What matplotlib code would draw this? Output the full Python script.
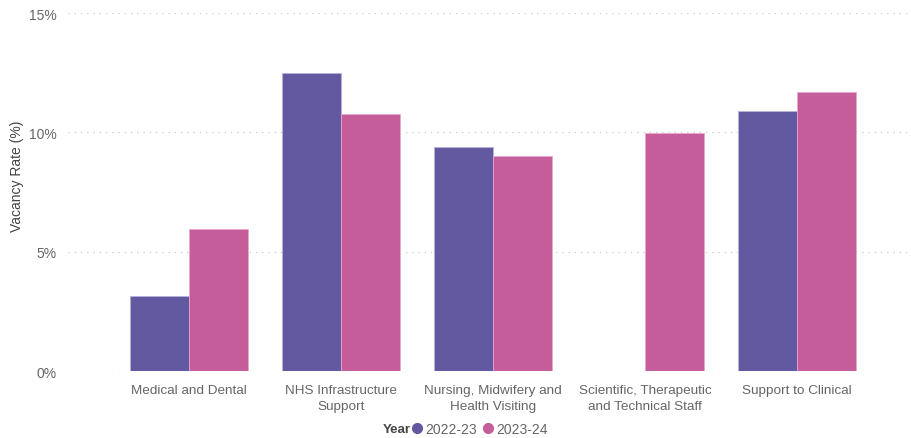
import numpy as np
import matplotlib
matplotlib.use("Agg")
import matplotlib.pyplot as plt
from matplotlib.lines import Line2D
from matplotlib.ticker import FuncFormatter

plt.rcParams['font.family'] = ['Liberation Sans', 'DejaVu Sans']

# data
categories = ["Medical and Dental", "NHS Infrastructure\nSupport",
              "Nursing, Midwifery and\nHealth Visiting",
              "Scientific, Therapeutic\nand Technical Staff", "Support to Clinical"]
years = ["2022-23", "2023-24"]
rate_2022 = [3.15, 12.48, 9.38, np.nan, 10.89]
rate_2023 = [5.95, 10.77, 9.02, 9.97, 11.69]

purple = "#6359A1"
pink = "#C45D99"
grey = "#666666"

fig = plt.figure(figsize=(9.12, 4.39), dpi=100)
ax = fig.add_axes([0.0746, 0.1526, 0.9254, 0.8155])

x = np.arange(len(categories))
w = 0.388
ax.bar(x - w / 2, rate_2022, width=w, color=purple, edgecolor="#b9b3dc", linewidth=0.6, zorder=3)
ax.bar(x + w / 2, rate_2023, width=w, color=pink, edgecolor="#e8a9cf", linewidth=0.6, zorder=3)

ax.set_xlim(-0.796, len(categories) - 1 + 0.756)
ax.set_ylim(0, 15)
ax.set_yticks([0, 5, 10, 15])
ax.yaxis.set_major_formatter(FuncFormatter(lambda v, p: f"{v:.0f}%"))
ax.set_xticks(x)
ax.set_xticklabels(categories, fontsize=9.7, color=grey, linespacing=1.45)
ax.tick_params(axis='x', length=0, pad=9)
ax.tick_params(axis='y', length=0, pad=8, labelsize=10, labelcolor=grey)
ax.grid(axis='y', linestyle=(0, (1, 4)), color="#c8c8c8", linewidth=0.9, zorder=0)
for s in ax.spines.values():
    s.set_visible(False)

ax.set_ylabel("Vacancy Rate (%)", fontsize=10, color="#444444")
ax.yaxis.set_label_coords(-0.052, 0.547)

# legend
fig.text(0.42, 0.0205, "Year", fontsize=9.5, fontweight='bold', color="#444444", va='center')
handles = [Line2D([], [], marker='o', linestyle='', color=c, markersize=7) for c in (purple, pink)]
fig.legend(handles, years, loc='center left', bbox_to_anchor=(0.436, 0.0205), ncol=2, frameon=False,
           fontsize=10, labelcolor=grey, handletextpad=0.1, columnspacing=0.3, handlelength=1.0)

fig.savefig("out.png", dpi=100)
